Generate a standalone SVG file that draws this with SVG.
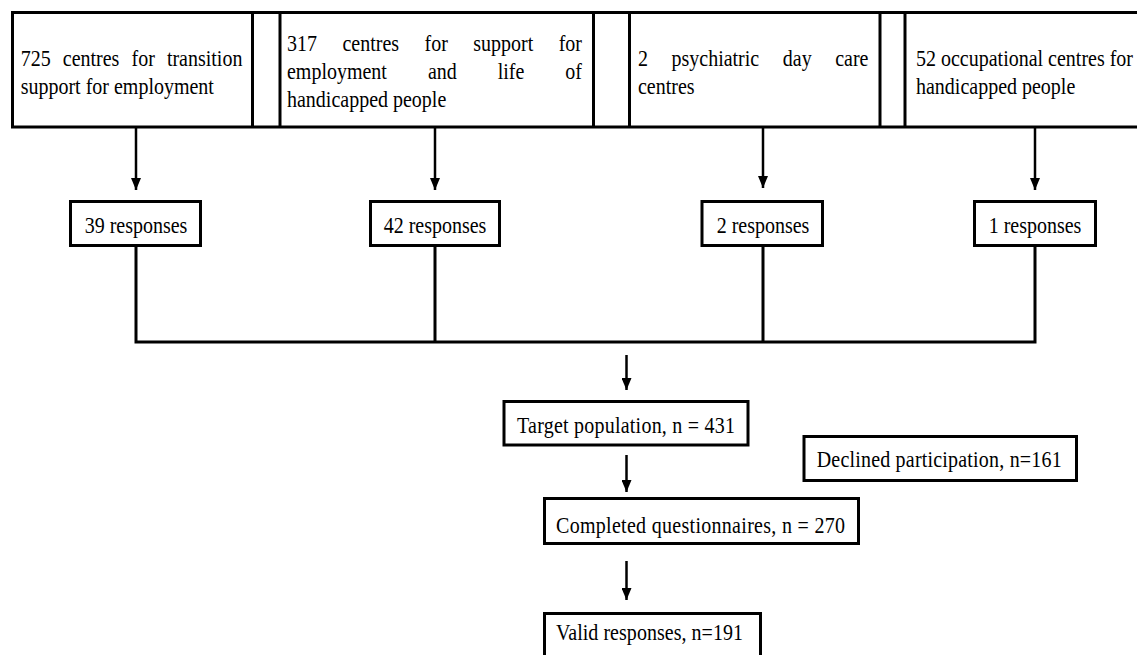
<svg xmlns="http://www.w3.org/2000/svg" width="1137" height="655" viewBox="0 0 1137 655">
<defs>
<style>
.box{fill:#fff;stroke:#000;stroke-width:3}
.frame{fill:none;stroke:#000;stroke-width:3}
.t{font-family:"Liberation Serif","Times New Roman",serif;font-size:20px;fill:#000}
.c{text-anchor:middle}
.ln{fill:none;stroke:#000;stroke-width:3}
.ar{fill:none;stroke:#000;stroke-width:2.5}
</style>
<marker id="ah" viewBox="0 0 12 10" refX="12" refY="5" markerWidth="12" markerHeight="10" markerUnits="userSpaceOnUse" orient="auto">
<path d="M0,0 L12,5 L0,10 z" fill="#000"/>
</marker>
</defs>
<rect width="1137" height="655" fill="#fff"/>

<g id="frame">
<rect class="frame" x="12.5" y="12.5" width="1140" height="114.5"/>
<line class="frame" x1="252.5" y1="12.5" x2="252.5" y2="127"/>
<line class="frame" x1="280" y1="12.5" x2="280" y2="127"/>
<line class="frame" x1="593.5" y1="12.5" x2="593.5" y2="127"/>
<line class="frame" x1="629.5" y1="12.5" x2="629.5" y2="127"/>
<line class="frame" x1="880" y1="12.5" x2="880" y2="127"/>
<line class="frame" x1="905" y1="12.5" x2="905" y2="127"/>
</g>

<g id="n-transition">
<text class="t" transform="matrix(1 0 0 1.13 0 66)"><tspan x="20.7" y="0">725</tspan><tspan x="62.8" y="0">centres</tspan><tspan x="131.5" y="0">for</tspan><tspan x="166.9" y="0">transition</tspan><tspan x="20.7" y="24.8">support for employment</tspan></text>
</g>
<g id="n-support">
<text class="t" transform="matrix(1 0 0 1.13 0 51)"><tspan x="287" y="0">317</tspan><tspan x="342.5" y="0">centres</tspan><tspan x="424.5" y="0">for</tspan><tspan x="473.3" y="0">support</tspan><tspan x="558.7" y="0">for</tspan><tspan x="287" y="24.6">employment</tspan><tspan x="427.9" y="24.6">and</tspan><tspan x="497.7" y="24.6">life</tspan><tspan x="565.3" y="24.6">of</tspan><tspan x="287" y="49.2">handicapped people</tspan></text>
</g>
<g id="n-psychiatric">
<text class="t" transform="matrix(1 0 0 1.13 0 65.5)"><tspan x="638" y="0">2</tspan><tspan x="671.5" y="0">psychiatric</tspan><tspan x="782.8" y="0">day</tspan><tspan x="835.2" y="0">care</tspan><tspan x="638" y="24.8">centres</tspan></text>
</g>
<g id="n-occupational">
<text class="t" transform="matrix(1 0 0 1.13 0 65.5)"><tspan x="916" y="0">52 occupational centres for</tspan><tspan x="916" y="24.8">handicapped people</tspan></text>
</g>

<g id="r39">
<rect class="box" x="70.5" y="201.5" width="130" height="44"/>
<text class="t c" transform="matrix(1 0 0 1.13 136 233)" x="0" y="0">39 responses</text>
</g>
<g id="r42">
<rect class="box" x="370.5" y="201.5" width="129" height="44"/>
<text class="t c" transform="matrix(1 0 0 1.13 435 233)" x="0" y="0">42 responses</text>
</g>
<g id="r2">
<rect class="box" x="702" y="201.5" width="120.5" height="44"/>
<text class="t c" transform="matrix(1 0 0 1.13 763 233)" x="0" y="0">2 responses</text>
</g>
<g id="r1">
<rect class="box" x="974.5" y="201.5" width="121" height="44"/>
<text class="t c" transform="matrix(1 0 0 1.13 1035 233)" x="0" y="0">1 responses</text>
</g>

<g id="target">
<rect class="box" x="504" y="401.5" width="244" height="43.5"/>
<text class="t" transform="matrix(1 0 0 1.13 0 432.7)" x="517" y="0" textLength="218" lengthAdjust="spacing">Target population,  n = 431</text>
</g>
<g id="declined">
<rect class="box" x="804" y="436.5" width="272.5" height="44"/>
<text class="t" transform="matrix(1 0 0 1.13 0 467)" x="816.7" y="0" textLength="245" lengthAdjust="spacing">Declined participation,  n=161</text>
</g>
<g id="completed">
<rect class="box" x="544.5" y="498.5" width="314" height="45"/>
<text class="t" transform="matrix(1 0 0 1.13 0 532.5)" x="556" y="0" textLength="289" lengthAdjust="spacing">Completed questionnaires, n = 270</text>
</g>
<g id="valid">
<rect class="box" x="544.5" y="613.5" width="216" height="50"/>
<text class="t" transform="matrix(1 0 0 1.13 0 640)" x="556" y="0" textLength="187" lengthAdjust="spacing">Valid responses, n=191</text>
</g>

<g id="connectors">
<line class="ar" x1="136" y1="128" x2="136" y2="190" marker-end="url(#ah)"/>
<line class="ar" x1="435" y1="128" x2="435" y2="190" marker-end="url(#ah)"/>
<line class="ar" x1="763" y1="128" x2="763" y2="188" marker-end="url(#ah)"/>
<line class="ar" x1="1035" y1="128" x2="1035" y2="190" marker-end="url(#ah)"/>
<path class="ln" d="M136,247 V342 H1035 V247 M435,247 V342 M763,247 V342"/>
<line class="ar" x1="626.5" y1="355" x2="626.5" y2="390" marker-end="url(#ah)"/>
<line class="ar" x1="626.5" y1="455" x2="626.5" y2="492" marker-end="url(#ah)"/>
<line class="ar" x1="626.5" y1="561" x2="626.5" y2="600" marker-end="url(#ah)"/>
</g>
</svg>
